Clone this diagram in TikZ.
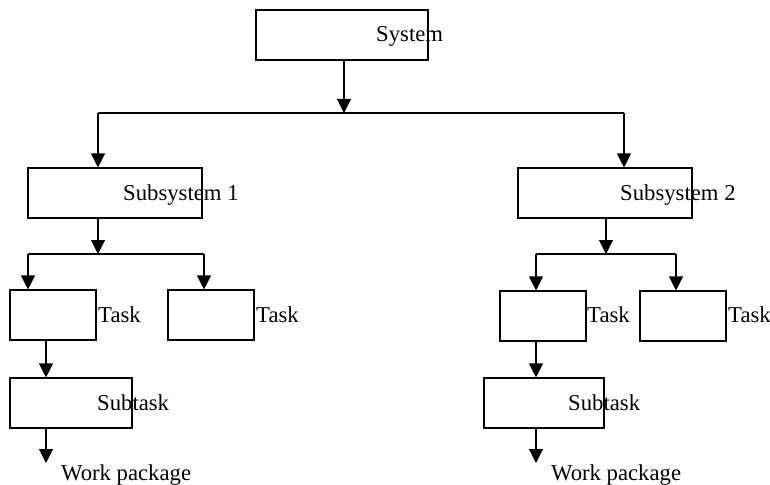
\documentclass[tikz,border=0pt]{standalone}
\usepackage{fontspec}
\setmainfont{Liberation Serif}
\usetikzlibrary{arrows.meta}
\begin{document}
\begin{tikzpicture}[x=1pt,y=-1pt,
  box/.style={draw,line width=1.1pt,inner sep=0pt,minimum height=50pt},
  lbl/.style={anchor=base west,inner sep=0pt,font=\fontsize{22.7}{26}\selectfont},
  conn/.style={line width=1.1pt},
  arr/.style={conn,-{Triangle[width=14pt,length=14pt]}}]
\useasboundingbox (0,0) rectangle (770,484);
% boxes
\node[box,minimum width=172pt] (sys) at (342,35) {};
\node[box,minimum width=174pt] (s1) at (115,193) {};
\node[box,minimum width=174pt] (s2) at (605,193) {};
\node[box,minimum width=86pt] (t1) at (53,315) {};
\node[box,minimum width=86pt] (t2) at (211,315) {};
\node[box,minimum width=86pt] (t3) at (543,316) {};
\node[box,minimum width=86pt] (t4) at (683,316) {};
\node[box,minimum width=122pt] (st1) at (71,403) {};
\node[box,minimum width=120pt] (st2) at (544,403) {};
% labels
\node[lbl] (lsys) at (376,42) {System};
\node[lbl] (ls1) at (123,200) {Subsystem 1};
\node[lbl] (ls2) at (620,200) {Subsystem 2};
\node[lbl] (lt1) at (98,322) {Task};
\node[lbl] (lt2) at (256,322) {Task};
\node[lbl] (lt3) at (587,322) {Task};
\node[lbl] (lt4) at (728,322) {Task};
\node[lbl] (lst1) at (97,410) {Subtask};
\node[lbl] (lst2) at (568,410) {Subtask};
\node[lbl] (lw1) at (61,480) {Work package};
\node[lbl] (lw2) at (551,480) {Work package};
% junction coordinates
\coordinate (j0) at (344,113);
\coordinate (j0l) at (98,113);
\coordinate (j0r) at (624,113);
\coordinate (j1) at (98,254);
\coordinate (j1l) at (28,254);
\coordinate (j1r) at (204,254);
\coordinate (j2) at (606,254);
\coordinate (j2l) at (536,254);
\coordinate (j2r) at (676,254);
\coordinate (a1) at (46,0);
\coordinate (a2) at (536,0);
\coordinate (w1) at (46,463);
\coordinate (w2) at (536,463);
% top level
\draw[arr] (j0 |- sys.south) -- (j0);
\draw[conn] (j0l) -- (j0r);
\draw[arr] (j0l) -- (j0l |- s1.north);
\draw[arr] (j0r) -- (j0r |- s2.north);
% subsystem 1
\draw[arr] (j1 |- s1.south) -- (j1);
\draw[conn] (j1l) -- (j1r);
\draw[arr] (j1l) -- (j1l |- t1.north);
\draw[arr] (j1r) -- (j1r |- t2.north);
\draw[arr] (a1 |- t1.south) -- (a1 |- st1.north);
\draw[arr] (w1 |- st1.south) -- (w1);
% subsystem 2
\draw[arr] (j2 |- s2.south) -- (j2);
\draw[conn] (j2l) -- (j2r);
\draw[arr] (j2l) -- (j2l |- t3.north);
\draw[arr] (j2r) -- (j2r |- t4.north);
\draw[arr] (a2 |- t3.south) -- (a2 |- st2.north);
\draw[arr] (w2 |- st2.south) -- (w2);
\end{tikzpicture}
\end{document}
